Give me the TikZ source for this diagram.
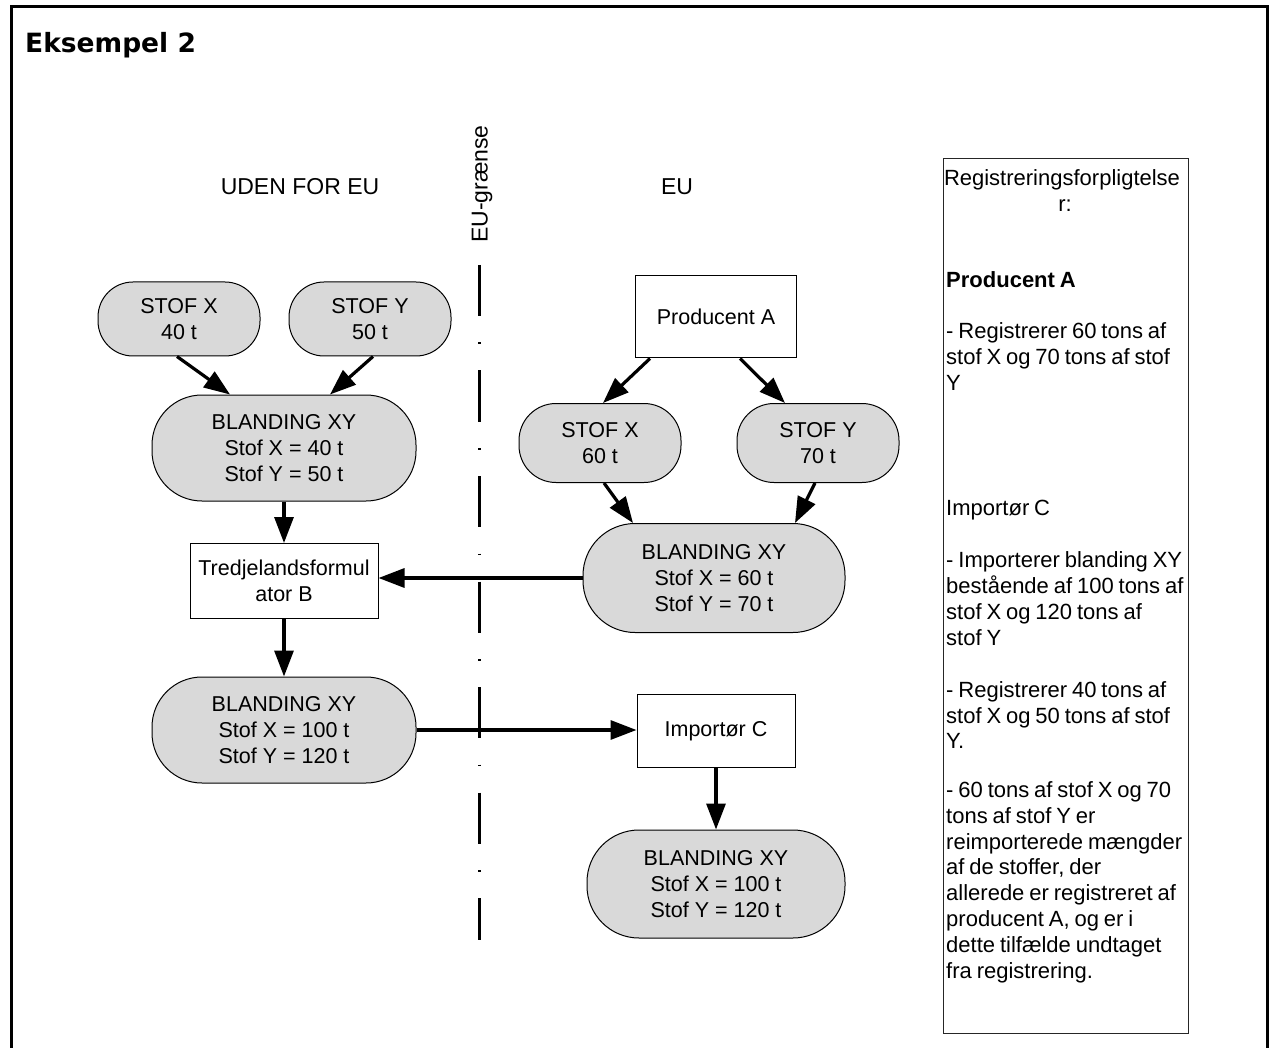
\documentclass[tikz,border=0pt]{standalone}
\usepackage{fontspec}
\setmainfont{Liberation Sans}
\newfontfamily\titlefont{DejaVu Sans}
\newfontfamily\regfont[WordSpace=0.8]{Liberation Sans}
\usetikzlibrary{arrows.meta,calc}
\definecolor{fillgray}{RGB}{217,217,217}
\begin{document}
\begin{tikzpicture}[x=1pt,y=-1pt,
  lbl/.style={font=\fontsize{23}{25.8}\selectfont, inner sep=0pt},
  reg/.style={font=\regfont\fontsize{22}{25.8}\selectfont, inner sep=0pt, anchor=base west},
  pill/.style={draw=black, line width=1pt, fill=fillgray, rounded corners=#1,
    font=\fontsize{21.5}{25.7}\selectfont, align=center, inner sep=0pt},
  plainbox/.style={draw=black, line width=1pt, fill=white,
    font=\fontsize{21.5}{25.7}\selectfont, align=center, inner sep=0pt},
  arr/.style={line width=3.2pt, -{Triangle[length=26pt,width=19pt]}}
]
\useasboundingbox (0,0) rectangle (1274,1048);

% outer frame, open at the bottom
\draw[line width=3pt, line join=miter] (11,1048) -- (11,7) -- (1267,7) -- (1267,1048);
\node[anchor=base west, inner sep=0pt, font=\titlefont\bfseries\fontsize{26.5}{30}\selectfont] (title) at (25,53) {Eksempel 2};

% region labels and border line
\node[lbl] (outside) at (300,187) {UDEN FOR EU};
\node[lbl] (inside) at (677,187) {EU};
\node[lbl, rotate=90] (borderlbl) at (482,184) {EU-grænse};
\coordinate (gtop) at (479,265);
\coordinate (gbot) at (479,940);
\draw[line width=3pt, dash pattern=on 51pt off 26.5pt on 1.5pt off 26.5pt] (gtop) -- (gbot);

% outside the EU
\node[pill=35pt, minimum width=162pt, minimum height=74pt] (sxo) at (179,319) {STOF X\\40 t};
\node[pill=35pt, minimum width=162pt, minimum height=74pt] (syo) at (370,319) {STOF Y\\50 t};
\node[pill=50pt, minimum width=264pt, minimum height=106pt] (bxo) at (284,448) {BLANDING XY\\Stof X = 40 t\\Stof Y = 50 t};
\node[plainbox, minimum width=188pt, minimum height=75pt] (tfb) at (284,581) {Tredjelandsformul\\ator B};
\node[pill=50pt, minimum width=264pt, minimum height=106pt] (bxi) at (284,730) {BLANDING XY\\Stof X = 100 t\\Stof Y = 120 t};

% inside the EU
\node[plainbox, minimum width=161pt, minimum height=82pt] (pa) at (716,317) {Producent A};
\node[pill=37pt, minimum width=162pt, minimum height=79pt] (sxe) at (600,443) {STOF X\\60 t};
\node[pill=37pt, minimum width=162pt, minimum height=79pt] (sye) at (818,443) {STOF Y\\70 t};
\node[pill=52pt, minimum width=262pt, minimum height=109pt] (bxe) at (714,578) {BLANDING XY\\Stof X = 60 t\\Stof Y = 70 t};
\node[plainbox, minimum width=158pt, minimum height=73pt] (ic) at (716,731) {Importør C};
\node[pill=52pt, minimum width=258pt, minimum height=108pt] (bxf) at (716,884) {BLANDING XY\\Stof X = 100 t\\Stof Y = 120 t};

% flows
\draw[arr] ([xshift=-2pt]sxo.south) -- ([xshift=-54pt]bxo.north);
\draw[arr] ([xshift=3pt]syo.south) -- ([xshift=46pt]bxo.north);
\draw[arr] (bxo.south) -- (tfb.north);
\draw[arr] (tfb.south) -- (bxi.north);
\draw[arr] (bxe.west) -- (bxe.west -| tfb.east);
\draw[arr] (bxi.east) -- (bxi.east -| ic.west);
\draw[arr] (ic.south) -- (bxf.north);
\draw[arr] ([xshift=-66pt]pa.south) -- ([xshift=3pt]sxe.north);
\draw[arr] ([xshift=24pt]pa.south) -- ([xshift=-33pt]sye.north);
\draw[arr] ([xshift=4pt]sxe.south) -- ([xshift=-81pt]bxe.north);
\draw[arr] ([xshift=-3pt]sye.south) -- ([xshift=81pt]bxe.north);

% registration duties
\node[draw=black!85, line width=1.3pt, minimum width=245pt, minimum height=875pt, anchor=north west, inner sep=0pt] (regbox) at (943,158) {};
\node[reg, anchor=base] (rh1) at (1062,186) {Registreringsforpligtelse};
\node[reg, anchor=base] (rh2) at (1065,212) {r:};
\node[reg, font=\regfont\bfseries\fontsize{22}{25.8}\selectfont] (rpa) at (946,288) {Producent A};
\node[reg] (ric) at (946,515) {Importør C};
\foreach \yy/\tt [count=\i] in {
  339/{- Registrerer 60 tons af}, 365/{stof X og 70 tons af stof}, 391/{Y},
  567/{- Importerer blanding XY}, 593/{bestående af 100 tons af}, 619/{stof X og 120 tons af}, 645/{stof Y},
  697/{- Registrerer 40 tons af}, 723/{stof X og 50 tons af stof}, 748/{Y.},
  797/{- 60 tons af stof X og 70}, 823/{tons af stof Y er}, 849/{reimporterede mængder},
  874/{af de stoffer, der}, 900/{allerede er registreret af}, 926/{producent A, og er i},
  952/{dette tilfælde undtaget}, 978/{fra registrering.}}
  \node[reg] (rl\i) at (946,\yy) {\tt};
\end{tikzpicture}
\end{document}
